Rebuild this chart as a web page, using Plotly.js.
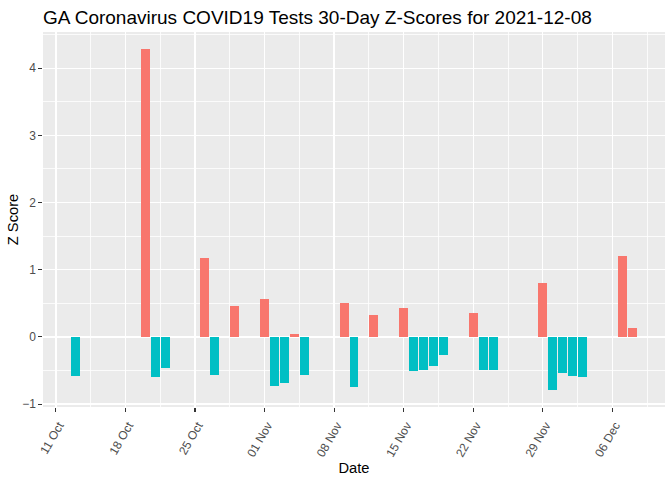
<!DOCTYPE html>
<html>
<head>
<meta charset="utf-8">
<script src="https://cdn.plot.ly/plotly-3.0.1.min.js"></script>
<style>
  html, body { margin: 0; padding: 0; background: #ffffff; }
  #chart { width: 672px; height: 480px; }
</style>
</head>
<body>
<div id="chart"></div>
<script>
// Data
const dates = [
  "2021-10-13", "2021-10-20", "2021-10-21", "2021-10-22", "2021-10-26",
  "2021-10-27", "2021-10-29", "2021-11-01", "2021-11-02", "2021-11-03",
  "2021-11-04", "2021-11-05", "2021-11-09", "2021-11-10", "2021-11-12",
  "2021-11-15", "2021-11-16", "2021-11-17", "2021-11-18", "2021-11-19",
  "2021-11-22", "2021-11-23", "2021-11-24", "2021-11-29", "2021-11-30",
  "2021-12-01", "2021-12-02", "2021-12-03", "2021-12-07", "2021-12-08"
];
const zScores = [
  -0.575, 4.286, -0.59, -0.456, 1.18,
  -0.56, 0.46, 0.567, -0.724, -0.68,
  0.045, -0.56, 0.505, -0.74, 0.33,
  0.43, -0.515, -0.486, -0.44, -0.263,
  0.36, -0.50, -0.50, 0.80, -0.79,
  -0.535, -0.58, -0.595, 1.21, 0.134
];
const tickDates = ["2021-10-11", "2021-10-18", "2021-10-25", "2021-11-01",
  "2021-11-08", "2021-11-15", "2021-11-22", "2021-11-29", "2021-12-06"];
const tickLabels = ["11 Oct", "18 Oct", "25 Oct", "01 Nov", "08 Nov",
  "15 Nov", "22 Nov", "29 Nov", "06 Dec"];
const minorDates = ["2021-10-07 12:00", "2021-10-14 12:00", "2021-10-21 12:00", "2021-10-28 12:00",
  "2021-11-04 12:00", "2021-11-11 12:00", "2021-11-18 12:00", "2021-11-25 12:00",
  "2021-12-02 12:00", "2021-12-09 12:00"];
const posColor = "#F8766D";
const negColor = "#00BFC4";

const DAY = 86400000;
const barWidthDays = 0.9;

// ggplot-style 5% expansion of data range
const ms = dates.map(d => Date.parse(d + "T00:00:00Z"));
const xmin = Math.min(...ms) - barWidthDays / 2 * DAY;
const xmax = Math.max(...ms) + barWidthDays / 2 * DAY;
const xpad = (xmax - xmin) * 0.05;
function fmt(t) {
  const d = new Date(t);
  const p = n => String(n).padStart(2, "0");
  return d.getUTCFullYear() + "-" + p(d.getUTCMonth() + 1) + "-" + p(d.getUTCDate()) +
    " " + p(d.getUTCHours()) + ":" + p(d.getUTCMinutes()) + ":" + p(d.getUTCSeconds());
}
const ymin = Math.min(0, ...zScores), ymax = Math.max(0, ...zScores);
const ypad = (ymax - ymin) * 0.05;

const trace = {
  type: "bar",
  x: dates,
  y: zScores,
  width: dates.map(() => barWidthDays * DAY),
  marker: { color: zScores.map(v => v >= 0 ? posColor : negColor), line: { width: 0 } },
  hoverinfo: "x+y",
  showlegend: false
};

const FONT = "Liberation Sans, Arial, sans-serif";
const tickFont = { family: FONT, size: 12, color: "#4D4D4D" };
const titleFont = { family: FONT, size: 14.7, color: "#000000" };

const layout = {
  width: 672,
  height: 480,
  paper_bgcolor: "#FFFFFF",
  plot_bgcolor: "#EBEBEB",
  margin: { l: 43, r: 7, t: 32, b: 73 },
  showlegend: false,
  bargap: 0,
  title: {
    text: "GA Coronavirus COVID19 Tests 30-Day Z-Scores for 2021-12-08",
    font: { family: FONT, size: 19, color: "#000000" },
    x: 43 / 672, xanchor: "left", xref: "container",
    y: 1 - 17 / 480, yanchor: "middle", yref: "container"
  },
  xaxis: {
    type: "date",
    range: [fmt(xmin - xpad), fmt(xmax + xpad)],
    tickmode: "array",
    tickvals: tickDates,
    ticktext: tickLabels,
    tickangle: -60,
    tickfont: tickFont,
    ticklabelshift: 3,
    ticklabelstandoff: 2,
    ticks: "outside",
    ticklen: 3.7,
    tickwidth: 1.07,
    tickcolor: "#333333",
    showgrid: true,
    gridcolor: "#FFFFFF",
    gridwidth: 1.3,
    minor: {
      tickmode: "array",
      tickvals: minorDates,
      showgrid: true,
      gridcolor: "#FFFFFF",
      gridwidth: 0.8,
      ticks: ""
    },
    zeroline: false,
    showline: false,
    title: { text: "Date", font: titleFont, standoff: 2 },
    fixedrange: true
  },
  yaxis: {
    range: [ymin - ypad, ymax + ypad],
    tickmode: "linear",
    tick0: 0,
    dtick: 1,
    tickfont: tickFont,
    ticks: "outside",
    ticklen: 3.7,
    tickwidth: 1.07,
    tickcolor: "#333333",
    showgrid: true,
    gridcolor: "#FFFFFF",
    gridwidth: 1.3,
    minor: {
      tick0: 0.5,
      dtick: 0.5,
      showgrid: true,
      gridcolor: "#FFFFFF",
      gridwidth: 0.8,
      ticks: ""
    },
    zeroline: false,
    showline: false,
    title: { text: "Z Score", font: titleFont, standoff: 0 },
    fixedrange: true
  }
};

Plotly.newPlot("chart", [trace], layout, { displayModeBar: false, staticPlot: true });
</script>
</body>
</html>
